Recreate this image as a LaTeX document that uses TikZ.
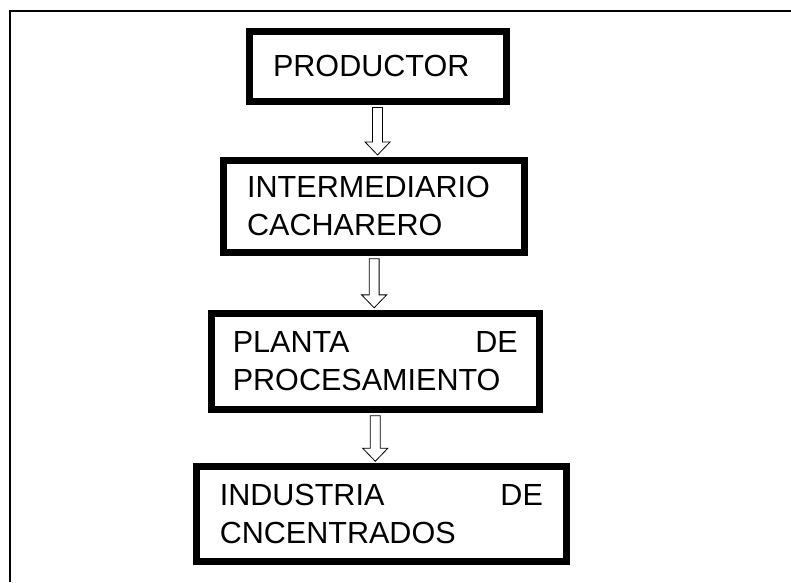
\documentclass[tikz,border=0pt]{standalone}
\usepackage{fontspec}
\setmainfont{Liberation Sans}
\usepackage{tikz}
\usetikzlibrary{positioning}
\usetikzlibrary{calc}

\tikzset{
	caja/.style={draw, line width=5.25pt, line join=miter, rectangle, inner sep=0pt, align=left,
		font=\fontsize{23}{28.5}\selectfont},
	flecha/.style={draw, fill=white, line width=0.6pt, line join=miter}
}

\begin{document}
\begin{tikzpicture}[line cap=round,line join=round,x=1.0cm,y=1.0cm]
	
	\useasboundingbox (0,0) rectangle (20.93,-15.40);
	\draw [line width=1.3pt, line cap=butt, line join=miter] (0.265,-15.40) -- (0.265,-0.29) -- (20.93,-0.29);
	
	\node [caja, minimum width=6.80cm, minimum height=1.85cm, text width=5.53cm] (prod) at (9.99,-1.75) {PRODUCTOR};
	\node [caja, minimum width=7.96cm, minimum height=2.43cm, text width=6.72cm] (inter) at (9.90,-5.46) {INTERMEDIARIO\\CACHARERO};
	\node [caja, minimum width=8.68cm, minimum height=2.54cm, text width=7.54cm] (planta) at (9.93,-9.56) {PLANTA\hfill DE\\PROCESAMIENTO};
	\node [caja, minimum width=9.79cm, minimum height=2.50cm, text width=8.55cm] (ind) at (10.09,-13.60) {INDUSTRIA\hfill DE\\CNCENTRADOS};
	
	% flechas huecas entre cajas
	\foreach \a/\b in {prod/inter, inter/planta, planta/ind}
	\draw [flecha] let \p1=(\a.south), \p2=(\b.north) in
		(\x1-3.75pt,\y1-2.25pt) -- (\x1+3.75pt,\y1-2.25pt) -- (\x1+3.75pt,\y2+11.25pt)
		-- (\x1+9.4pt,\y2+11.25pt) -- (\x1,\y2+1.5pt) -- (\x1-9.4pt,\y2+11.25pt)
		-- (\x1-3.75pt,\y2+11.25pt) -- cycle;
	
\end{tikzpicture}
\end{document}
